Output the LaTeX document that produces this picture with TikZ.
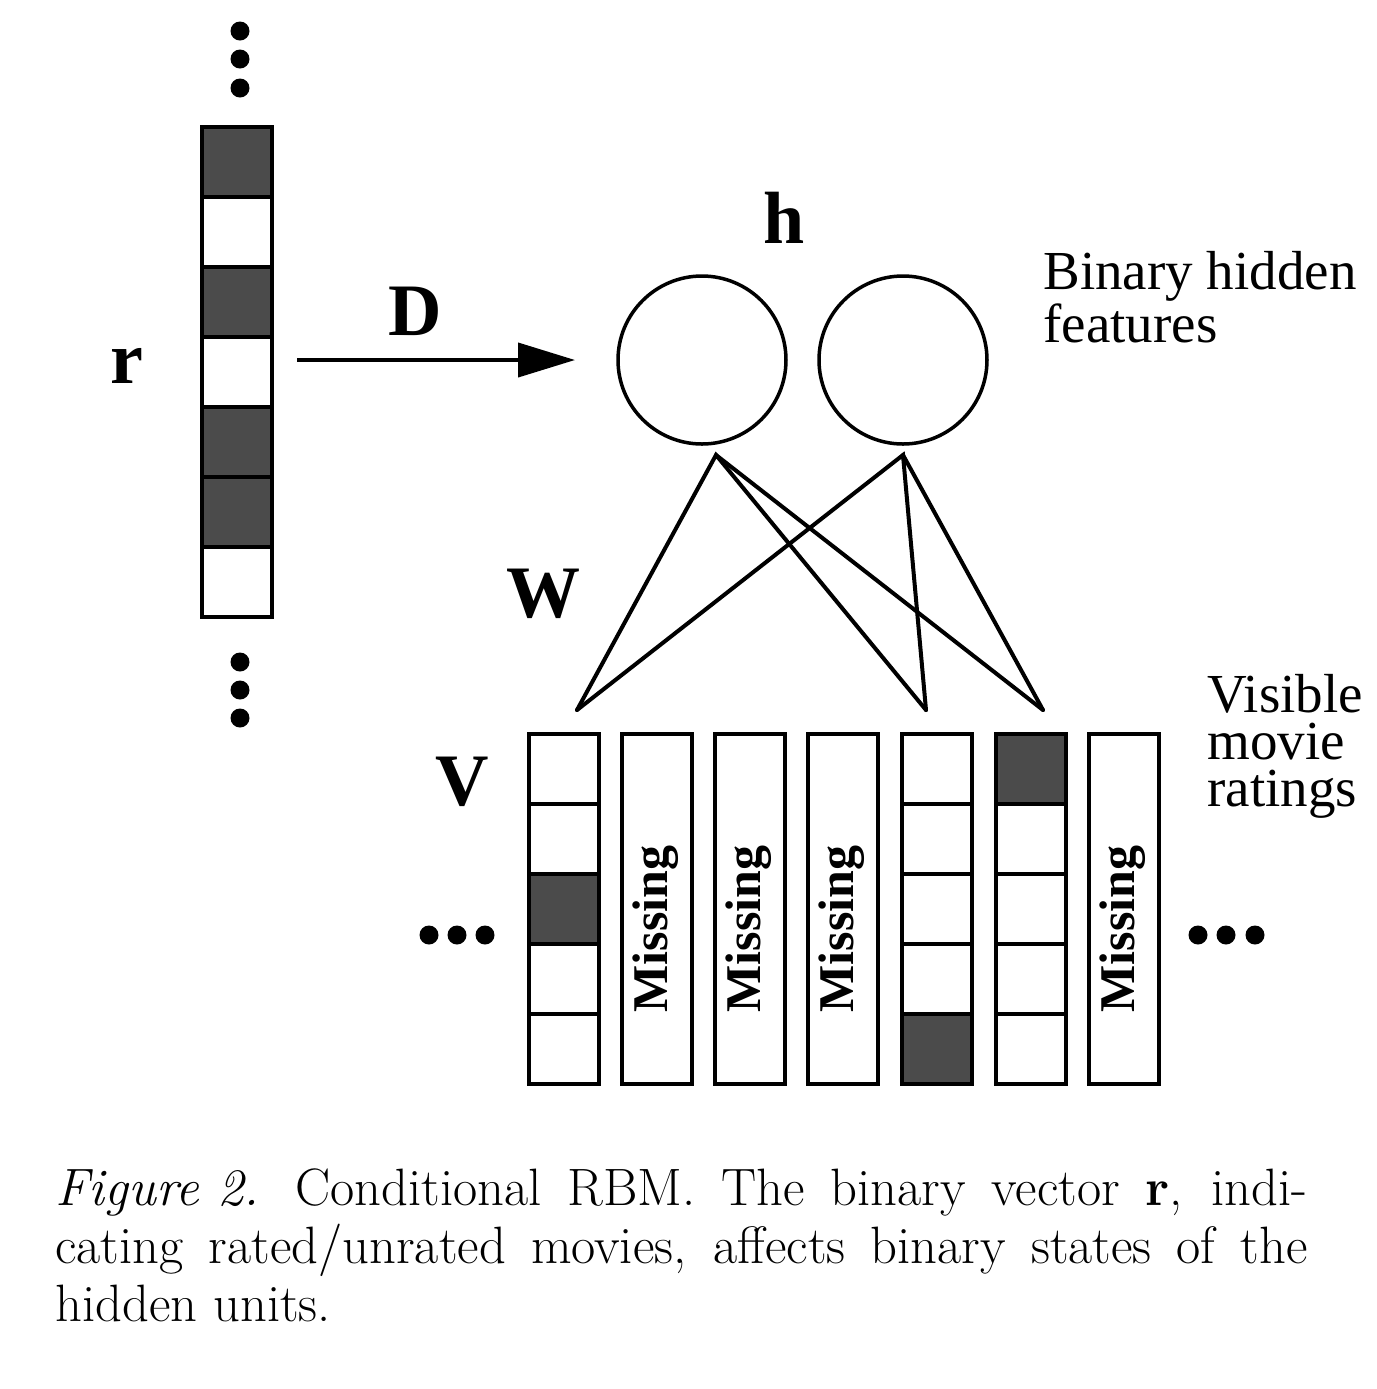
\documentclass[tikz,border=0pt]{standalone}
\usepackage{fontspec}
\newfontfamily\tms{Liberation Serif}
\usetikzlibrary{arrows.meta}
\definecolor{cellgray}{RGB}{75,75,75}
\begin{document}
\begin{tikzpicture}[x=0.5pt,y=-0.5pt,
  cellbox/.style={draw=black,line width=2pt,fill=white},
  darkbox/.style={draw=black,line width=2pt,fill=cellgray},
  unit/.style={circle,draw=black,line width=1.75pt,minimum size=84pt,inner sep=0pt},
  wire/.style={line width=2pt,line cap=round},
  biglabel/.style={font=\tms\bfseries\fontsize{37}{37}\selectfont,anchor=base,inner sep=0pt},
  sidelabel/.style={font=\tms\fontsize{27.5}{23.5}\selectfont,align=left,anchor=north west,inner sep=0pt},
  misslabel/.style={font=\tms\bfseries\fontsize{25}{25}\selectfont,rotate=90,anchor=base,inner sep=0pt},
  dotmark/.style={circle,fill=black,inner sep=0pt,minimum size=9.5pt},
  capline/.style={font=\fontsize{26.3}{29}\selectfont,anchor=base west,inner sep=0pt}
]
\useasboundingbox (0,0) rectangle (1377,1389);

% ---- r vector ----
\foreach \i/\s in {0/darkbox,1/cellbox,2/darkbox,3/cellbox,4/darkbox,5/darkbox,6/cellbox}{
  \draw[\s] (202,{127+70*\i}) rectangle (272,{197+70*\i});
}
\node[dotmark] (rt1) at (240,31) {};
\node[dotmark] (rt2) at (240,59) {};
\node[dotmark] (rt3) at (240,88) {};
\node[dotmark] (rb1) at (240,662) {};
\node[dotmark] (rb2) at (240,690) {};
\node[dotmark] (rb3) at (240,718) {};
\node[biglabel] (rlab) at (127,383) {r};

% ---- D arrow ----
\coordinate (dS) at (297,360);
\coordinate (dE) at (575,360);
\draw[line width=2pt,-{Triangle[length=28.5pt,width=17pt]}] (dS) -- (dE);
\node[biglabel] (dlab) at (415,335) {D};

% ---- hidden units ----
\node[unit] (h1) at (702,360) {};
\node[unit] (h2) at (903,360) {};
\node[biglabel] (hlab) at (784,243) {h};
\node[sidelabel] (binlab) at (1043,251) {Binary hidden\\features};

% ---- weights ----
\coordinate (hA) at (716,455);
\coordinate (hB) at (903,455);
\coordinate (v1) at (577,710);
\coordinate (v5) at (926,710);
\coordinate (v6) at (1043,710);
\draw[wire] (v1) -- (hA) -- (v5);
\draw[wire] (hA) -- (v6);
\draw[wire] (v1) -- (hB) -- (v5);
\draw[wire] (hB) -- (v6);
\node[biglabel] (wlab) at (543,617) {W};
\node[biglabel] (vlab) at (462,805) {V};

% ---- visible units ----
% column 1
\foreach \i/\s in {0/cellbox,1/cellbox,2/darkbox,3/cellbox,4/cellbox}{
  \draw[\s] (529,{734+70*\i}) rectangle (599,{804+70*\i});
}
% column 5
\foreach \i/\s in {0/cellbox,1/cellbox,2/cellbox,3/cellbox,4/darkbox}{
  \draw[\s] (902,{734+70*\i}) rectangle (972,{804+70*\i});
}
% column 6
\foreach \i/\s in {0/darkbox,1/cellbox,2/cellbox,3/cellbox,4/cellbox}{
  \draw[\s] (996,{734+70*\i}) rectangle (1066,{804+70*\i});
}
% missing columns
\foreach \x/\n in {622/m2,715/m3,808/m4,1089/m7}{
  \draw[cellbox] (\x,734) rectangle ({\x+70},1084);
  \node[misslabel] (\n) at ({\x+45},929) {Missing};
}
\node[dotmark] (ld1) at (429,935) {};
\node[dotmark] (ld2) at (457,935) {};
\node[dotmark] (ld3) at (485,935) {};
\node[dotmark] (rd1) at (1198,935) {};
\node[dotmark] (rd2) at (1226,935) {};
\node[dotmark] (rd3) at (1255,935) {};
\node[sidelabel] (vislab) at (1207,674) {Visible\\movie\\ratings};

% ---- caption ----
\node[capline] (cap1) at (55,1205) {\makebox[626pt][s]{\mbox{\textit{Figure 2.}}\hspace{18pt}Conditional RBM. The binary vector \textbf{r}, indi-}};
\node[capline] (cap2) at (55,1263) {\makebox[626pt][s]{cating rated/unrated movies, affects binary states of the}};
\node[capline] (cap3) at (55,1321) {hidden units.};
\end{tikzpicture}
\end{document}
